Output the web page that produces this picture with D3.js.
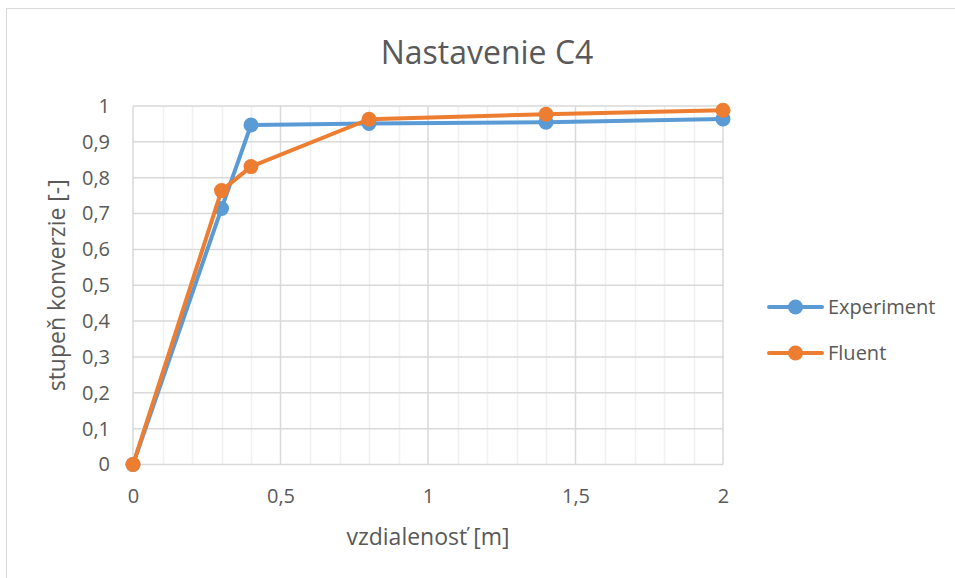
<!DOCTYPE html>
<html>
<head>
<meta charset="utf-8">
<script src="https://cdn.jsdelivr.net/npm/d3@7"></script>
<style>
  html, body { margin: 0; padding: 0; background: #fff; }
  text { font-family: "Open Sans", "Noto Sans", sans-serif; fill: #595959; }
</style>
</head>
<body>
<svg id="chart" width="955" height="578"></svg>
<script>
const xValues = [0, 0.3, 0.4, 0.8, 1.4, 2];
const experiment = [0, 0.714, 0.947, 0.951, 0.955, 0.964];
const fluent = [0, 0.764, 0.831, 0.963, 0.977, 0.988];
const seriesNames = ["Experiment", "Fluent"];
const seriesColors = ["#5b9bd5", "#ed7d31"];
const xTicks = [0, 0.5, 1, 1.5, 2];
const yTicks = [0, 0.1, 0.2, 0.3, 0.4, 0.5, 0.6, 0.7, 0.8, 0.9, 1];
const title = "Nastavenie C4";
const xLabel = "vzdialenosť [m]";
const yLabel = "stupeň konverzie [-]";

const svg = d3.select("#chart");
const fmt = d => String(d).replace(".", ",");

// chart frame
svg.append("rect").attr("x", 6.5).attr("y", 8.5).attr("width", 1000).attr("height", 1000)
  .attr("fill", "#fff").attr("stroke", "#d9d9d9").attr("stroke-width", 1);

const plot = { left: 133, right: 723, top: 106, bottom: 464.5 };
const x = d3.scaleLinear().domain([0, 2]).range([plot.left, plot.right]);
const y = d3.scaleLinear().domain([0, 1]).range([plot.bottom, plot.top]);

const g = svg.append("g");
// minor vertical gridlines
const minorX = d3.range(0, 2.0001, 0.1).filter(v => Math.abs(v * 2 - Math.round(v * 2)) > 1e-6);
g.selectAll(".minorx").data(minorX).join("line")
  .attr("x1", d => Math.round(x(d)) + 0.5).attr("x2", d => Math.round(x(d)) + 0.5)
  .attr("y1", plot.top).attr("y2", plot.bottom)
  .attr("stroke", "#f0f0f0").attr("stroke-width", 1.5);
// major horizontal gridlines
g.selectAll(".majory").data(yTicks).join("line")
  .attr("x1", plot.left).attr("x2", plot.right)
  .attr("y1", d => y(d)).attr("y2", d => y(d))
  .attr("stroke", "#d9d9d9").attr("stroke-width", 1.5);
// major vertical gridlines
g.selectAll(".majorx").data(xTicks).join("line")
  .attr("x1", d => x(d)).attr("x2", d => x(d))
  .attr("y1", plot.top).attr("y2", plot.bottom)
  .attr("stroke", "#d9d9d9").attr("stroke-width", 1.5);

// axes tick labels via d3 axes
const xAxis = d3.axisBottom(x).tickValues(xTicks).tickFormat(fmt).tickSize(0).tickPadding(24);
const gx = svg.append("g").attr("transform", `translate(0,${plot.bottom})`).call(xAxis);
gx.select(".domain").remove();
gx.selectAll("text").style("font-size", "20px").attr("fill", "#595959");

const yAxis = d3.axisLeft(y).tickValues(yTicks).tickFormat(fmt).tickSize(0).tickPadding(23);
const gy = svg.append("g").attr("transform", `translate(${plot.left},0)`).call(yAxis);
gy.select(".domain").remove();
gy.selectAll("text").style("font-size", "20px").attr("fill", "#595959");

// series
const seriesData = [experiment, fluent];
const line = d3.line().x(d => x(d[0])).y(d => y(d[1]));
seriesData.forEach((vals, i) => {
  const pts = xValues.map((xv, j) => [xv, vals[j]]);
  svg.append("path").datum(pts).attr("d", line)
    .attr("fill", "none").attr("stroke", seriesColors[i]).attr("stroke-width", 4)
    .attr("stroke-linejoin", "round").attr("stroke-linecap", "round");
  svg.selectAll(".pt" + i).data(pts).join("circle")
    .attr("cx", d => x(d[0])).attr("cy", d => y(d[1])).attr("r", 7.5)
    .attr("fill", seriesColors[i]);
});

// title
svg.append("text").attr("x", 487).attr("y", 64).attr("text-anchor", "middle")
  .style("font-size", "32px").text(title);
// axis labels
svg.append("text").attr("x", 428).attr("y", 545).attr("text-anchor", "middle")
  .style("font-size", "23px").text(xLabel);
svg.append("text").attr("transform", `translate(57,${(plot.top + plot.bottom) / 2}) rotate(-90)`)
  .attr("text-anchor", "middle").attr("dy", "0.35em").style("font-size", "23px").text(yLabel);

// legend
const legendY = [307, 353];
seriesNames.forEach((name, i) => {
  const lg = svg.append("g").attr("transform", `translate(0,${legendY[i]})`);
  lg.append("line").attr("x1", 769).attr("x2", 822).attr("y1", 0).attr("y2", 0)
    .attr("stroke", seriesColors[i]).attr("stroke-width", 4).attr("stroke-linecap", "round");
  lg.append("circle").attr("cx", 795.5).attr("cy", 0).attr("r", 7.5).attr("fill", seriesColors[i]);
  lg.append("text").attr("x", 828).attr("y", 0).attr("dy", "0.35em")
    .style("font-size", "20px").text(name);
});
</script>
</body>
</html>
